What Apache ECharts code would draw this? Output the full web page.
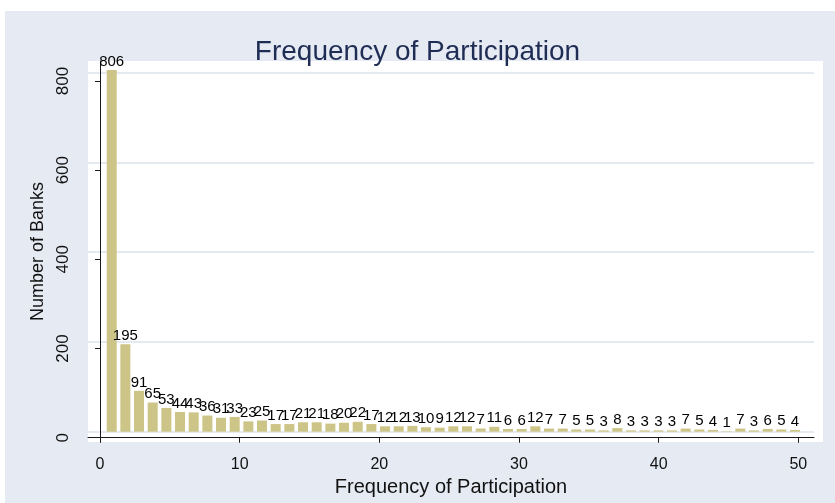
<!DOCTYPE html>
<html>
<head>
<meta charset="utf-8">
<script src="https://cdn.jsdelivr.net/npm/echarts@6/dist/echarts.min.js"></script>
<style>html,body{margin:0;padding:0;background:#fff;}#c{width:835px;height:503px;}</style>
</head>
<body>
<div id="c"></div>
<script>
var titleText = 'Frequency of Participation';
var xTitle = 'Frequency of Participation';
var yTitle = 'Number of Banks';
var frequency = [1,2,3,4,5,6,7,8,9,10,11,12,13,14,15,16,17,18,19,20,21,22,23,24,25,26,27,28,29,30,31,32,33,34,35,36,37,38,39,40,41,42,43,44,45,46,47,48,49,50,51];
var banks = [806,195,91,65,53,44,43,36,31,33,23,25,17,17,21,21,18,20,22,17,12,12,13,10,9,12,12,7,11,6,6,12,7,7,5,5,3,8,3,3,3,3,7,5,4,1,7,3,6,5,4];
var xTicks = [0,10,20,30,40,50];
var yTicks = [0,200,400,600,800];

var chart = echarts.init(document.getElementById('c'), null, {renderer:'canvas'});
var font = 'Liberation Sans, Arial, Helvetica, sans-serif';
var axisColor = '#1a1a1a';
chart.setOption({
  backgroundColor: '#ffffff',
  animation: false,
  graphic: [
    {type:'rect', z:-100, silent:true, shape:{x:5, y:11, width:830, height:492}, style:{fill:'#E6EAF3'}},
    {type:'rect', z:-90, silent:true, shape:{x:88, y:61, width:735, height:381}, style:{fill:'#ffffff'}}
  ],
  title: {
    text: titleText, left: 'center', top: 33,
    textStyle: {fontFamily: font, fontSize: 28, fontWeight: 'normal', color: '#1F2D55'}
  },
  grid: {left: 88, right: 21, top: 61, bottom: 61, containLabel: false},
  xAxis: [
    {
      type: 'value', min: -0.859, max: 51.12, offset: 6,
      name: xTitle, nameLocation: 'middle', nameGap: 24,
      nameTextStyle: {fontFamily: font, fontSize: 20, color: '#111'},
      axisLine: {show: true, lineStyle: {color: axisColor, width: 1}},
      axisTick: {show: true, length: 5, customValues: xTicks, lineStyle: {color: axisColor}},
      axisLabel: {show: true, customValues: xTicks, margin: 9, fontFamily: font, fontSize: 16, color: '#111'},
      splitLine: {show: false}
    },
    {
      type: 'value', min: -0.734, max: 52.39, show: false
    }
  ],
  yAxis: [
    {
      type: 'value', min: -9.64, max: 844.8,
      name: yTitle, nameLocation: 'middle', nameGap: 40, nameRotate: 90,
      nameTextStyle: {fontFamily: font, fontSize: 18, color: '#111'},
      axisLine: {show: true, lineStyle: {color: axisColor, width: 1}},
      axisTick: {show: true, length: 5, customValues: yTicks, lineStyle: {color: axisColor}},
      axisLabel: {show: true, customValues: yTicks, rotate: 90, margin: 16, fontFamily: font, fontSize: 17, color: '#111'},
      splitLine: {show: false}
    },
    {
      type: 'value', min: -22.95, max: 826.0, position: 'left',
      axisLine: {show: false}, axisLabel: {show: false},
      axisTick: {show: false, customValues: yTicks},
      splitLine: {show: true, lineStyle: {color: '#DCE3EC', width: 1.5}}
    }
  ],
  series: [{
    type: 'bar',
    xAxisIndex: 1, yAxisIndex: 1,
    barWidth: 10,
    data: frequency.map(function(f, i){ return [f, banks[i]]; }),
    itemStyle: {color: '#CDC487'},
    label: {
      show: true, position: 'top', distance: 1,
      fontFamily: font, fontSize: 15, color: '#000',
      formatter: function(p){ return p.value[1]; }
    }
  }]
});
</script>
</body>
</html>
